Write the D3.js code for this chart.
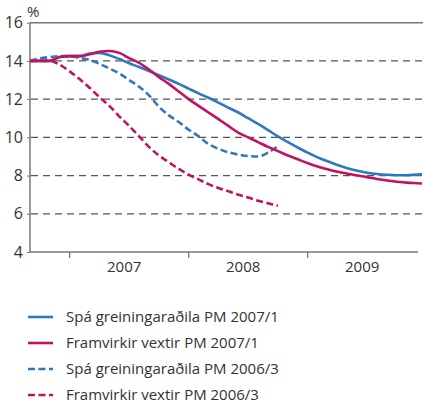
<!DOCTYPE html>
<html><head><meta charset="utf-8">
<script src="https://cdn.jsdelivr.net/npm/d3@7"></script>
<style>body{margin:0;background:#fff;} svg{display:block;font-family:"Open Sans",sans-serif;}</style>
</head><body><div id="chart"></div>
<script>
// months since Sep 2006 (index 0 = Sep 2006)
const yTicks = [4, 6, 8, 10, 12, 14, 16];
const yearLabels = ["2007", "2008", "2009"];
const yearStartMonths = [4, 16, 28];
const seriesNames = ["Spá greiningaraðila PM 2007/1", "Framvirkir vextir PM 2007/1", "Spá greiningaraðila PM 2006/3", "Framvirkir vextir PM 2006/3"];
const spa2007 = [14.0,14.0,14.0,14.2,14.25,14.25,14.38,14.42,14.3,14.1,13.88,13.68,13.47,13.25,13.03,12.8,12.55,12.3,12.07,11.82,11.55,11.3,11.0,10.7,10.38,10.05,9.75,9.47,9.2,8.95,8.75,8.55,8.38,8.25,8.15,8.08,8.04,8.02,8.02,8.05,8.08];
const fv2007 = [14.0,14.0,14.0,14.2,14.25,14.25,14.35,14.48,14.52,14.42,14.15,13.9,13.55,13.15,12.8,12.4,12.0,11.65,11.3,10.95,10.6,10.25,10.0,9.75,9.5,9.28,9.05,8.85,8.65,8.47,8.33,8.2,8.1,8.0,7.92,7.82,7.74,7.68,7.63,7.6,7.57];
const spa2006 = [14.0,14.13,14.2,14.25,14.25,14.15,14.05,13.85,13.6,13.35,13.0,12.65,12.2,11.6,11.15,10.8,10.4,10.05,9.65,9.4,9.22,9.1,9.02,9.0,9.2,9.55];
const fv2006 = [14.0,14.0,14.0,13.8,13.45,13.05,12.6,12.1,11.65,11.1,10.6,10.05,9.5,9.05,8.7,8.35,8.05,7.8,7.55,7.35,7.18,7.0,6.85,6.68,6.55,6.42];
const colors = ["#2f78be", "#c0125f", "#2f78be", "#c0125f"];
const dashed = [false, false, true, true];

const W = 423, H = 407;
const svg = d3.select("#chart").append("svg").attr("width", W).attr("height", H);
const x = d3.scaleLinear().domain([0, 40]).range([30, 426.7]);
const y = d3.scaleLinear().domain([4, 16]).range([252, 22.7]);
const plotRight = 423;

// gridlines
svg.append("g").selectAll("line").data(yTicks.filter(v => v > 4 && v < 16)).join("line")
  .attr("x1", 31).attr("x2", plotRight).attr("y1", d => y(d)).attr("y2", d => y(d))
  .attr("stroke", "#555").attr("stroke-width", 1.3).attr("stroke-dasharray", "7,5");
// frame
svg.append("line").attr("x1", 30).attr("x2", plotRight).attr("y1", y(16)).attr("y2", y(16)).attr("stroke", "#777").attr("stroke-width", 1.5);
svg.append("line").attr("x1", 30).attr("x2", 30).attr("y1", y(16)).attr("y2", y(4)).attr("stroke", "#777").attr("stroke-width", 1.5);
svg.append("line").attr("x1", 30).attr("x2", 418).attr("y1", y(4)).attr("y2", y(4)).attr("stroke", "#777").attr("stroke-width", 1.5);
// y axis
const yAxis = d3.axisLeft(y).tickValues(yTicks).tickSize(3).tickPadding(4);
const ga = svg.append("g").attr("transform", "translate(30,0)").call(yAxis);
ga.select(".domain").remove();
ga.selectAll("line").attr("stroke", "#777");
ga.selectAll("text").attr("font-size", 16).attr("fill", "#333").attr("font-family", "Open Sans, sans-serif");
svg.append("text").attr("x", 27).attr("y", 17).attr("font-size", 15).attr("fill", "#333").text("%");
// x ticks
svg.append("g").selectAll("line").data(yearStartMonths).join("line")
  .attr("x1", d => x(d)).attr("x2", d => x(d)).attr("y1", y(4)).attr("y2", y(4) + 6)
  .attr("stroke", "#777").attr("stroke-width", 1.3);
svg.append("g").selectAll("text").data(yearLabels).join("text")
  .attr("x", (d, i) => x(yearStartMonths[i] + 6) - 5).attr("y", 272)
  .attr("text-anchor", "middle").attr("font-size", 15).attr("fill", "#333").text(d => d);

// clip
svg.append("clipPath").attr("id", "clip").append("rect").attr("x", 30).attr("y", 0).attr("width", 392).attr("height", 260);
const line = d3.line().x((d, i) => x(i)).y(d => y(d)).curve(d3.curveMonotoneX);
const allSeries = [spa2007, fv2007, spa2006, fv2006];
const drawOrder = [3, 2, 0, 1];
drawOrder.forEach(k => {
  svg.append("path").datum(allSeries[k]).attr("d", line).attr("clip-path", "url(#clip)")
    .attr("fill", "none").attr("stroke", colors[k]).attr("stroke-width", 2.6)
    .attr("stroke-dasharray", dashed[k] ? "7,3.5" : null);
});

// legend
const lg = svg.append("g");
seriesNames.forEach((name, i) => {
  const ly = 317 + i * 26;
  lg.append("line").attr("x1", 28).attr("x2", 53).attr("y1", ly).attr("y2", ly)
    .attr("stroke", colors[i]).attr("stroke-width", 2.6).attr("stroke-dasharray", dashed[i] ? "7,3.5" : null);
  lg.append("text").attr("x", 66).attr("y", ly + 5).attr("font-size", 15).attr("fill", "#333").text(name);
});
</script></body></html>
